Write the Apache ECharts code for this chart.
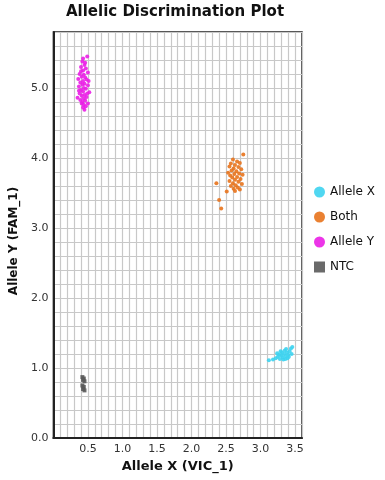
<!DOCTYPE html>
<html><head><meta charset="utf-8">
<script src="https://cdn.jsdelivr.net/npm/echarts@6/dist/echarts.min.js"></script>
<style>html,body{margin:0;padding:0;background:#fff}#c{width:385px;height:480px}</style>
</head><body><div id="c"></div>
<script>
var seriesNames = ['Allele X', 'Both', 'Allele Y', 'NTC'];
var alleleX = [[3.18,1.12],[3.22,1.14],[3.25,1.16],[3.28,1.13],[3.30,1.18],[3.32,1.15],[3.34,1.20],[3.36,1.17],[3.38,1.22],[3.40,1.19],[3.42,1.24],[3.44,1.28],[3.46,1.30],[3.35,1.25],[3.31,1.22],[3.27,1.19],[3.39,1.14],[3.33,1.12],[3.29,1.24],[3.41,1.16],[3.37,1.27],[3.24,1.21],[3.45,1.20],[3.12,1.11],[3.36,1.13]];
var both = [[2.75,4.05],[2.36,3.64],[2.40,3.40],[2.43,3.28],[2.51,3.52],[2.60,3.98],[2.66,3.95],[2.57,3.92],[2.70,3.93],[2.63,3.90],[2.55,3.88],[2.68,3.87],[2.61,3.85],[2.72,3.84],[2.58,3.82],[2.65,3.81],[2.53,3.79],[2.69,3.78],[2.62,3.77],[2.56,3.75],[2.74,3.76],[2.66,3.73],[2.59,3.72],[2.71,3.70],[2.63,3.69],[2.55,3.67],[2.68,3.66],[2.60,3.64],[2.73,3.63],[2.64,3.61],[2.57,3.60],[2.67,3.58],[2.61,3.56],[2.70,3.55],[2.63,3.53]];
var alleleY = [[0.49,5.45],[0.42,5.38],[0.45,5.33],[0.40,5.30],[0.47,5.28],[0.43,5.25],[0.50,5.22],[0.38,5.20],[0.44,5.19],[0.41,5.16],[0.46,5.15],[0.36,5.13],[0.48,5.12],[0.43,5.10],[0.39,5.08],[0.45,5.06],[0.42,5.05],[0.50,5.04],[0.37,5.02],[0.44,5.00],[0.47,4.99],[0.40,4.97],[0.43,4.95],[0.52,4.94],[0.38,4.92],[0.45,4.90],[0.41,4.89],[0.48,4.87],[0.44,4.85],[0.39,4.83],[0.46,4.82],[0.42,4.80],[0.50,4.78],[0.44,4.76],[0.47,4.74],[0.43,4.72],[0.45,4.69],[0.35,4.86],[0.51,5.10],[0.40,5.24],[0.46,5.36],[0.43,5.42],[0.37,4.96],[0.49,4.92],[0.41,4.78]];
var ntc = [[0.42,0.87],[0.44,0.85],[0.43,0.83],[0.45,0.81],[0.42,0.75],[0.44,0.73],[0.43,0.70],[0.45,0.68]];
var seriesColors = ['#3dd3ef', '#e8731c', '#ea1fe6', '#5a5a5a'];

var chart = echarts.init(document.getElementById('c'), null, {renderer: 'canvas'});
var font = 'DejaVu Sans, Verdana, sans-serif';
function mk(name, data, color, symbol, size) {
  return {name: name, type: 'scatter', data: data, symbol: symbol, symbolSize: size,
    itemStyle: {color: color, opacity: 0.9}};
}
chart.setOption({
  animation: false,
  backgroundColor: '#fff',
  title: {text: 'Allelic Discrimination Plot', left: 170, top: 0, textAlign: 'center',
    textStyle: {fontFamily: font, fontSize: 15, fontWeight: 'bold', color: '#111'}},
  legend: {orient: 'vertical', left: 309, top: 181, itemGap: 13, itemWidth: 11, itemHeight: 11,
    textStyle: {fontFamily: font, fontSize: 12, color: '#111'},
    data: [{name: seriesNames[0], icon: 'circle'}, {name: seriesNames[1], icon: 'circle'},
           {name: seriesNames[2], icon: 'circle'}, {name: seriesNames[3], icon: 'rect'}]},
  grid: {left: 51, right: 83, top: 32, bottom: 42, show: true, borderColor: '#222', borderWidth: 1.5},
  xAxis: {type: 'value', min: 0, max: 3.6, interval: 0.1,
    name: 'Allele X (VIC_1)', nameLocation: 'middle', nameGap: 22,
    nameTextStyle: {fontFamily: font, fontSize: 13, fontWeight: 'bold', color: '#111'},
    axisLine: {show: true, lineStyle: {color: '#222', width: 2}},
    axisTick: {show: false},
    splitLine: {show: true, lineStyle: {color: '#c8c8c8', width: 1.2}},
    axisLabel: {fontFamily: font, fontSize: 11, color: '#333', margin: 6,
      formatter: function (v) { var r = Math.round(v * 10); return (r > 0 && r % 5 === 0 && r <= 35) ? (r / 10).toFixed(1) : ''; }}},
  yAxis: {type: 'value', min: 0, max: 5.8, interval: 0.2,
    name: 'Allele Y (FAM_1)', nameLocation: 'middle', nameGap: 32,
    nameTextStyle: {fontFamily: font, fontSize: 12, fontWeight: 'bold', color: '#111', padding: [0, 12, 0, 0]},
    axisLine: {show: true, lineStyle: {color: '#222', width: 2}},
    axisTick: {show: false},
    splitLine: {show: true, lineStyle: {color: '#c8c8c8', width: 1.2}},
    axisLabel: {fontFamily: font, fontSize: 11, color: '#333', margin: 5,
      formatter: function (v) { var r = Math.round(v * 10); return (r % 10 === 0) ? (r / 10).toFixed(1) : ''; }}},
  series: [
    mk(seriesNames[0], alleleX, seriesColors[0], 'circle', 4),
    mk(seriesNames[1], both, seriesColors[1], 'circle', 4),
    mk(seriesNames[2], alleleY, seriesColors[2], 'circle', 4),
    mk(seriesNames[3], ntc, seriesColors[3], 'rect', 4)
  ]
});
</script></body></html>
